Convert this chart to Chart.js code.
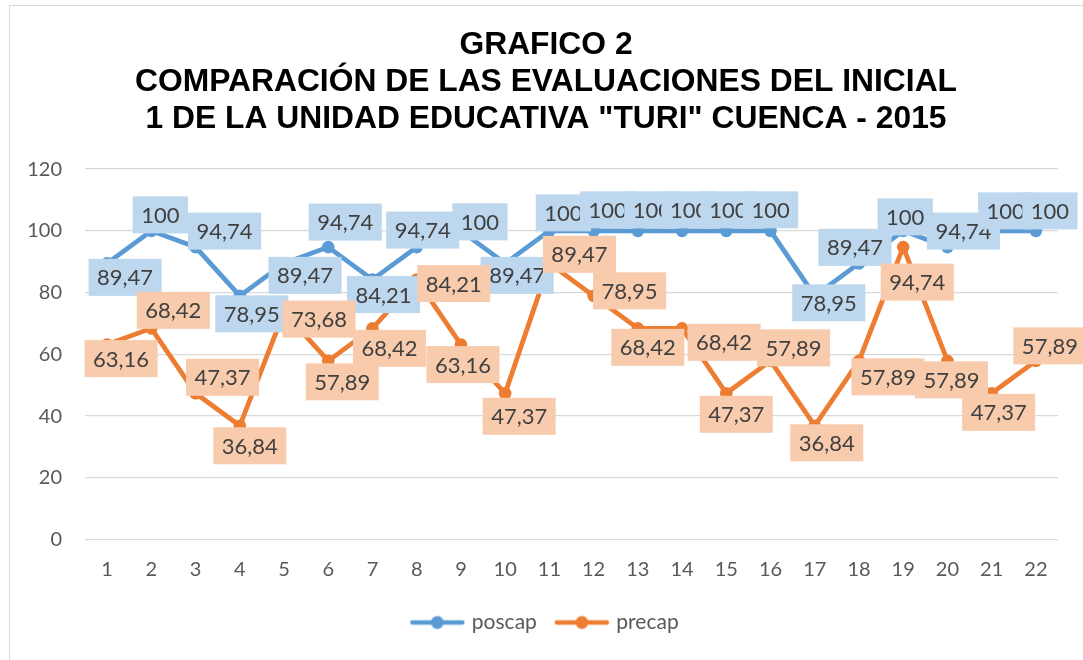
<!DOCTYPE html>
<html lang="es">
<head>
<meta charset="UTF-8">
<title>Grafico 2</title>
<script src="https://cdn.jsdelivr.net/npm/chart.js"></script>
<style>
  html, body { margin: 0; padding: 0; background: #fff; overflow: hidden; }
  .frame {
    position: absolute; left: 9px; top: 5px;
    width: 1200px; height: 800px;
    border: 1.5px solid #d9d9d9;
  }
  .wrap { position: absolute; left: 0; top: 0; width: 1083px; height: 660px; }
</style>
</head>
<body>
<div class="frame"></div>
<div class="wrap"><canvas id="chart"></canvas></div>
<script>
// datos
const categories = ['1','2','3','4','5','6','7','8','9','10','11','12','13','14','15','16','17','18','19','20','21','22'];
const poscap = [89.47, 100, 94.74, 78.95, 89.47, 94.74, 84.21, 94.74, 100, 89.47, 100,
                100, 100, 100, 100, 100, 78.95, 89.47, 100, 94.74, 100, 100];
const precap = [63.16, 68.42, 47.37, 36.84, 73.68, 57.89, 68.42, 84.21, 63.16, 47.37, 89.47,
                78.95, 68.42, 68.42, 47.37, 57.89, 36.84, 57.89, 94.74, 57.89, 47.37, 57.89];
const yTicks = [0, 20, 40, 60, 80, 100, 120];

// desplazamiento de cada etiqueta respecto a su punto (px)
const posShift = [[18,14],[9,-16],[29,-16],[12,18],[21,12],[17,-25],[11,15],[6,-17],[19,-9],[12,12],[14,-18],
                  [14,-21],[14,-21],[7,-21],[2,-21],[0,-21],[14,7],[-4,-16],[2,-14],[16,-16],[14,-20],[14,-20]];
const preShift = [[14,14],[22,-18],[27,-16],[10,20],[35,7],[14,21],[17,20],[37,4],[2,20],[14,23],[30,-9],
                  [36,-5],[10,19],[42,14],[10,21],[23,-13],[12,17],[29,16],[14,35],[4,19],[7,19],[14,-15]];

const BLUE = '#5b9bd5', ORANGE = '#ed7d31';
const labelFill = ['#bdd7ee', '#f8cbad'];
const labelShift = [posShift, preShift];
const FONT = 'Lato, "Open Sans", sans-serif';

function fmt(v) {
  return Number.isInteger(v) ? String(v) : v.toFixed(2).replace('.', ',');
}

// icono de leyenda: linea con punto
function legendIcon(color) {
  const c = document.createElement('canvas');
  c.width = 56; c.height = 16;
  const g = c.getContext('2d');
  g.strokeStyle = color; g.lineWidth = 4.5; g.lineCap = 'round';
  g.beginPath(); g.moveTo(3, 8); g.lineTo(53, 8); g.stroke();
  g.fillStyle = color;
  g.beginPath(); g.arc(28, 8, 6.5, 0, Math.PI * 2); g.fill();
  return c;
}

const boxLabels = {
  id: 'boxLabels',
  afterDatasetsDraw(chart) {
    const ctx = chart.ctx;
    ctx.save();
    ctx.font = '22px ' + FONT;
    ctx.textAlign = 'center';
    ctx.textBaseline = 'middle';
    chart.data.datasets.forEach((ds, i) => {
      const meta = chart.getDatasetMeta(i);
      meta.data.forEach((pt, j) => {
        const txt = fmt(ds.data[j]);
        const w = ctx.measureText(txt).width + 17;
        const h = 37;
        const cx = pt.x + labelShift[i][j][0];
        const cy = pt.y + labelShift[i][j][1];
        ctx.fillStyle = labelFill[i];
        ctx.fillRect(cx - w / 2, cy - h / 2, w, h);
        ctx.fillStyle = '#404040';
        ctx.fillText(txt, cx, cy + 1);
      });
    });
    ctx.restore();
  }
};

new Chart(document.getElementById('chart'), {
  type: 'line',
  data: {
    labels: categories,
    datasets: [
      { label: 'poscap', data: poscap, borderColor: BLUE, backgroundColor: BLUE,
        borderWidth: 4.8, pointRadius: 6.3, pointBorderWidth: 0, order: 1 },
      { label: 'precap', data: precap, borderColor: ORANGE, backgroundColor: ORANGE,
        borderWidth: 4.8, pointRadius: 6.3, pointBorderWidth: 0, order: 0 }
    ]
  },
  options: {
    responsive: true,
    maintainAspectRatio: false,
    animation: false,
    layout: { padding: { left: 9, right: 0, top: 0, bottom: 17 } },
    plugins: {
      title: {
        display: true,
        text: ['GRAFICO 2', 'COMPARACIÓN DE LAS EVALUACIONES DEL INICIAL', '1 DE LA UNIDAD EDUCATIVA "TURI" CUENCA - 2015'],
        color: '#000',
        font: { family: '"Liberation Sans", Arial, sans-serif', weight: 'bold', size: 31.8, lineHeight: 1.165 },
        padding: { top: 27, bottom: 31 }
      },
      legend: {
        position: 'bottom',
        labels: {
          usePointStyle: true,
          pointStyleWidth: 48,
          padding: 21,
          color: '#595959',
          font: { family: FONT, size: 21 },
          generateLabels: chart => chart.data.datasets.map((ds, i) => ({
            text: ds.label,
            fillStyle: ds.borderColor,
            strokeStyle: ds.borderColor,
            lineWidth: 0,
            pointStyle: legendIcon(ds.borderColor),
            fontColor: '#595959',
            hidden: false,
            datasetIndex: i
          }))
        }
      },
      tooltip: { enabled: false }
    },
    scales: {
      x: {
        offset: true,
        grid: { display: false },
        border: { display: false },
        ticks: { color: '#595959', font: { family: FONT, size: 20 }, padding: 10.5 },
        afterFit: s => { s.height -= 1.5; }
      },
      y: {
        min: 0, max: 120,
        afterBuildTicks: s => { s.ticks = yTicks.map(v => ({ value: v })); },
        afterFit: s => { s.width = 76; },
        grid: { color: '#d9d9d9', lineWidth: 1.3, drawTicks: false },
        border: { display: false },
        ticks: { color: '#595959', font: { family: FONT, size: 20 }, padding: 23 }
      },
      y2: {
        position: 'right',
        afterFit: s => { s.width = 25; },
        grid: { display: false },
        border: { display: false },
        ticks: { display: false }
      }
    }
  },
  plugins: [boxLabels]
});
</script>
</body>
</html>
